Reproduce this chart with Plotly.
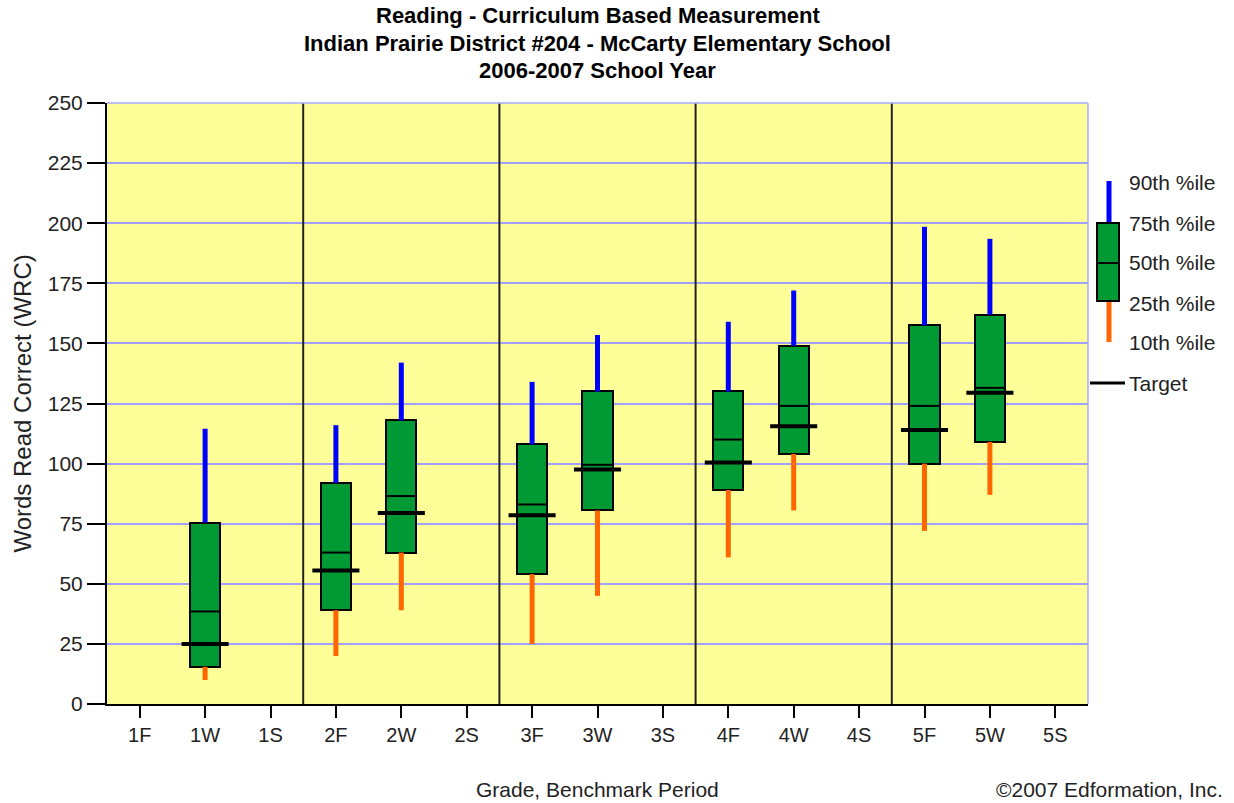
import plotly.graph_objects as go

categories = ["1F", "1W", "1S", "2F", "2W", "2S", "3F", "3W", "3S",
              "4F", "4W", "4S", "5F", "5W", "5S"]
p10 = [None, 10, None, 20, 39, None, 25, 45, None, 61, 80.5, None, 72, 87, None]
p25 = [None, 15.5, None, 39, 63, None, 54, 80.5, None, 89, 104, None, 100, 109, None]
p50 = [None, 38.5, None, 63, 86.5, None, 83, 99.5, None, 110, 124, None, 124, 131.5, None]
p75 = [None, 75.5, None, 92, 118, None, 108, 130, None, 130, 149, None, 157.5, 162, None]
p90 = [None, 114.5, None, 116, 142, None, 134, 153.5, None, 159, 172, None, 198.5, 193.5, None]
target = [None, 25, None, 55.5, 79.5, None, 78.5, 97.5, None, 100.5, 115.5, None, 114, 129.5, None]

title_lines = ["Reading - Curriculum Based Measurement",
               "Indian Prairie District #204 - McCarty Elementary School",
               "2006-2007 School Year"]
legend_labels = ["90th %ile", "75th %ile", "50th %ile", "25th %ile", "10th %ile", "Target"]

GREEN = "#009933"
BLUE = "#0000FF"
ORANGE = "#FF6600"
FONT = "Liberation Sans, Arial, sans-serif"
BOX_W = 0.46
TGT_W = 0.72

idx = [i for i in range(len(categories)) if p25[i] is not None]

fig = go.Figure()

# upper whiskers (blue) and lower whiskers (orange)
ux, uy, lx, ly = [], [], [], []
for i in idx:
    ux += [i, i, None]; uy += [p75[i], p90[i], None]
    lx += [i, i, None]; ly += [p10[i], p25[i], None]
fig.add_trace(go.Scatter(x=ux, y=uy, mode="lines", line=dict(color=BLUE, width=5),
                         hoverinfo="skip", showlegend=False))
fig.add_trace(go.Scatter(x=lx, y=ly, mode="lines", line=dict(color=ORANGE, width=5),
                         hoverinfo="skip", showlegend=False))

# boxes
fig.add_trace(go.Bar(x=idx, y=[p75[i] - p25[i] for i in idx], base=[p25[i] for i in idx],
                     width=BOX_W, marker=dict(color=GREEN, line=dict(color="black", width=2)),
                     hoverinfo="skip", showlegend=False))

# medians
mx, my = [], []
for i in idx:
    mx += [i - BOX_W / 2, i + BOX_W / 2, None]; my += [p50[i], p50[i], None]
fig.add_trace(go.Scatter(x=mx, y=my, mode="lines", line=dict(color="black", width=2),
                         hoverinfo="skip", showlegend=False))

# targets
tx, ty = [], []
for i in idx:
    tx += [i - TGT_W / 2, i + TGT_W / 2, None]; ty += [target[i], target[i], None]
fig.add_trace(go.Scatter(x=tx, y=ty, mode="lines", line=dict(color="black", width=4),
                         hoverinfo="skip", showlegend=False))

shapes = []
# grade separators
for s in [2.5, 5.5, 8.5, 11.5]:
    shapes.append(dict(type="line", xref="x", yref="paper", x0=s, x1=s, y0=0, y1=1,
                       line=dict(color="#222222", width=2)))
# right & top border
shapes.append(dict(type="line", xref="paper", yref="paper", x0=1, x1=1, y0=0, y1=1,
                   line=dict(color="#AAAAFF", width=1.5)))
shapes.append(dict(type="line", xref="paper", yref="paper", x0=0, x1=1, y0=1, y1=1,
                   line=dict(color="#AAAAFF", width=1.5)))

# legend glyph
shapes.append(dict(type="line", xref="paper", yref="paper", x0=1.0214, x1=1.0214,
                   y0=0.8003, y1=0.8702, line=dict(color=BLUE, width=5)))
shapes.append(dict(type="line", xref="paper", yref="paper", x0=1.0214, x1=1.0214,
                   y0=0.6023, y1=0.6705, line=dict(color=ORANGE, width=5)))
shapes.append(dict(type="rect", xref="paper", yref="paper", x0=1.0092, x1=1.0316,
                   y0=0.6705, y1=0.8003, fillcolor=GREEN, line=dict(color="black", width=2)))
shapes.append(dict(type="line", xref="paper", yref="paper", x0=1.0092, x1=1.0316,
                   y0=0.7338, y1=0.7338, line=dict(color="black", width=2)))
shapes.append(dict(type="line", xref="paper", yref="paper", x0=1.0020, x1=1.0377,
                   y0=0.5341, y1=0.5341, line=dict(color="black", width=3)))

annotations = []
for text, y in zip(title_lines, [1.1464, 1.0998, 1.0549]):
    annotations.append(dict(text="<b>" + text + "</b>", xref="paper", yref="paper",
                            x=0.5, y=y, xanchor="center", yanchor="middle", showarrow=False,
                            font=dict(family=FONT, size=22, color="black")))
for text, y in zip(legend_labels, [0.8669, 0.8003, 0.7338, 0.6672, 0.6007, 0.5341]):
    annotations.append(dict(text=text, xref="paper", yref="paper", x=1.0398, y=y,
                            xanchor="left", yanchor="middle", showarrow=False,
                            font=dict(family=FONT, size=21, color="#222222")))
annotations.append(dict(text="Words Read Correct (WRC)", xref="paper", yref="paper",
                        x=-0.0866, y=0.5, textangle=-90, xanchor="center", yanchor="middle",
                        showarrow=False, font=dict(family=FONT, size=24, color="#222222")))
annotations.append(dict(text="Grade, Benchmark Period", xref="paper", yref="paper",
                        x=0.5, y=-0.143, xanchor="center", yanchor="middle",
                        showarrow=False, font=dict(family=FONT, size=21, color="#222222")))
annotations.append(dict(text="©2007 Edformation, Inc.", xref="paper", yref="paper",
                        x=1.1397, y=-0.143, xanchor="right", yanchor="middle",
                        showarrow=False, font=dict(family=FONT, size=21, color="#222222")))

# plot area lands at x 107..1088, y 103..704 of the page
fig.update_layout(
    width=1234, height=803,
    margin=dict(l=107, r=146, t=103, b=99),
    paper_bgcolor="white", plot_bgcolor="#FFFF99",
    font=dict(family=FONT, size=20, color="#222222"),
    shapes=shapes, annotations=annotations, showlegend=False, bargap=0,
    hovermode=False,
    xaxis=dict(range=[-0.5, 14.5], tickmode="array", tickvals=list(range(len(categories))),
               ticktext=categories, ticks="outside", ticklen=12, tickwidth=1.5,
               tickcolor="black", showline=True, linecolor="black", linewidth=2,
               showgrid=False, zeroline=False, fixedrange=True,
               tickfont=dict(family=FONT, size=20, color="#222222")),
    yaxis=dict(range=[0, 250], dtick=25, tick0=0, ticks="outside", ticklen=18, tickwidth=1.5,
               tickcolor="black", showline=True, linecolor="black", linewidth=2,
               showgrid=True, gridcolor="#A0A0FF", gridwidth=1.5, zeroline=False,
               fixedrange=True, tickfont=dict(family=FONT, size=21, color="#222222")),
)

fig.write_html("out.html", config={"displayModeBar": False},
               post_script="document.body.style.margin='0';document.body.style.overflow='hidden';")
